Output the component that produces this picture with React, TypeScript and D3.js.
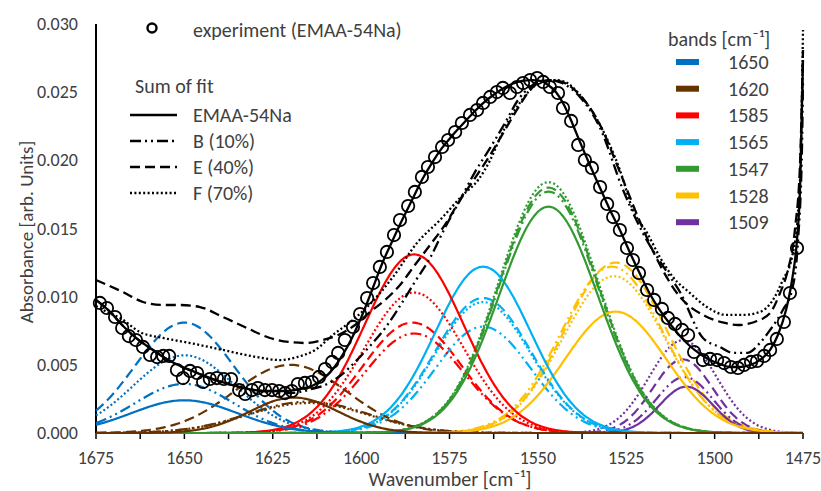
import * as React from "react";
import * as d3 from "d3";

// fitted bands (Gaussian): centre [cm-1], width sigma [cm-1], height [a.u.]
const bandLabels = ["1650", "1620", "1585", "1565", "1547", "1528", "1509"];
const bandColors = ["#0070C0", "#663300", "#FF0000", "#00B0F0", "#339933", "#FFC000", "#7030A0"];

const centersS = [1650, 1619, 1585, 1565.5, 1547, 1528, 1508];
const centersB = [1650, 1615, 1585, 1565.5, 1547, 1529, 1508.5];
const centersE = [1650, 1620, 1585.5, 1565.5, 1547, 1528, 1509];
const centersF = [1650, 1615, 1585, 1565.5, 1547, 1528.5, 1509];

const widthsS = [15, 12.5, 14, 13.5, 14, 14.4, 7.5];
const widthsB = [14, 17, 14, 13.5, 14, 14.4, 8];
const widthsE = [14, 16, 14, 13.5, 14, 14.4, 8.5];
const widthsF = [14.5, 17, 14, 13.5, 14, 14.4, 9.5];

const heightsS = [0.0024, 0.0026, 0.0131, 0.0122, 0.0166, 0.0089, 0.0034];
const heightsB = [0.0036, 0.0023, 0.0073, 0.0078, 0.0177, 0.0122, 0.0041];
const heightsE = [0.0081, 0.005, 0.0081, 0.0099, 0.018, 0.0125, 0.0054];
const heightsF = [0.0057, 0.0022, 0.0103, 0.0096, 0.0184, 0.0115, 0.0068];

// sum of fit curves [wavenumber, absorbance]
const sumS = [
  [1675, 0.00976], [1671, 0.00888], [1667.6, 0.00792], [1663.7, 0.00697], [1659.7, 0.00623],
  [1655.5, 0.0055], [1651.2, 0.00491], [1647, 0.00447], [1642.8, 0.00403], [1638.5, 0.00367],
  [1634.3, 0.00337], [1630, 0.00315], [1625.8, 0.00308], [1621.5, 0.00308], [1617.3, 0.00323],
  [1613.9, 0.00345], [1611.1, 0.00389], [1608.2, 0.00462], [1605.4, 0.00565], [1602.6, 0.00697],
  [1599.8, 0.00858], [1596.9, 0.01049], [1594.1, 0.0124], [1591.3, 0.01401], [1588.4, 0.01562],
  [1585.6, 0.01709], [1582.8, 0.01856], [1580, 0.0198], [1577.1, 0.02091], [1574.3, 0.02179],
  [1571.5, 0.02259], [1568.6, 0.0234], [1565.8, 0.02413], [1563, 0.02472], [1560.1, 0.02523],
  [1557.3, 0.0256], [1554.5, 0.02582], [1551.7, 0.02589], [1549.4, 0.02582], [1547.1, 0.02553],
  [1544.9, 0.02501], [1542.6, 0.02406], [1540.3, 0.02274], [1538.1, 0.02135], [1535.3, 0.01966],
  [1532.4, 0.01797], [1529.6, 0.01636], [1526.8, 0.01489], [1523.9, 0.0132], [1521.1, 0.01166],
  [1518.3, 0.0102], [1515.5, 0.00902], [1512.6, 0.008], [1509.8, 0.00712], [1507, 0.00638],
  [1504.1, 0.00579], [1501.3, 0.00535], [1498.5, 0.00506], [1495.7, 0.00484], [1492.8, 0.00484],
  [1490, 0.00499], [1487.2, 0.00535], [1484.3, 0.00609], [1482.1, 0.00719], [1479.8, 0.00902],
  [1478.1, 0.01122], [1476.7, 0.01416], [1475.8, 0.01819], [1475, 0.02736],
];

const sumB = [
  [1675, 0.00976], [1671, 0.00888], [1667.6, 0.00792], [1663.7, 0.00697], [1659.7, 0.00623],
  [1655.5, 0.0055], [1651.2, 0.00491], [1647, 0.00447], [1642.8, 0.00403], [1638.5, 0.00367],
  [1634.3, 0.00337], [1630, 0.00315], [1625.8, 0.00301], [1621.5, 0.00293], [1617.3, 0.00301],
  [1613.9, 0.00323], [1610.2, 0.00352], [1606, 0.00418], [1601.7, 0.00521], [1597.5, 0.00638],
  [1593.2, 0.0077], [1589, 0.00932], [1584.8, 0.01108], [1580.5, 0.01284], [1576.3, 0.01504],
  [1572, 0.01709], [1567.8, 0.01914], [1563.5, 0.02091], [1559.3, 0.02274], [1555.6, 0.02443],
  [1552.2, 0.02538], [1549.4, 0.02582], [1546.6, 0.02589], [1543.2, 0.02567], [1538.1, 0.02465],
  [1532.4, 0.02237], [1525.9, 0.01782], [1520.3, 0.01467], [1513.5, 0.01181], [1509.8, 0.01034],
  [1503.3, 0.00697], [1498.5, 0.00631], [1494.8, 0.00587], [1490.8, 0.00587], [1487.2, 0.0066],
  [1484.3, 0.00756], [1480.7, 0.00902], [1478.1, 0.01049], [1476.4, 0.01416], [1475.3, 0.02076],
  [1475, 0.02589],
];

const sumE = [
  [1675, 0.01122], [1667.4, 0.01034], [1661.7, 0.00961], [1656.3, 0.00939], [1651.2, 0.00939],
  [1645.6, 0.00924], [1639.1, 0.00851], [1632.3, 0.0077], [1625.8, 0.00697], [1620.1, 0.00667],
  [1615.3, 0.0066], [1610.8, 0.00682], [1606.5, 0.00719], [1601.7, 0.00792], [1597.5, 0.00888],
  [1593.2, 0.00976], [1589, 0.01086], [1584.8, 0.01232], [1580.5, 0.01379], [1576.3, 0.01526],
  [1572, 0.01709], [1567.8, 0.0187], [1563.5, 0.02039], [1559.3, 0.02223], [1555.6, 0.02384],
  [1552.2, 0.02516], [1549.4, 0.02575], [1546.6, 0.02589], [1543.2, 0.02575], [1538.1, 0.02479],
  [1532.4, 0.02259], [1526.8, 0.01914], [1521.1, 0.01548], [1516.9, 0.01306], [1509.8, 0.00998],
  [1502.7, 0.00858], [1497.1, 0.00807], [1493.4, 0.00792], [1488, 0.00822], [1484.3, 0.0088],
  [1481.5, 0.01027], [1479.5, 0.01174], [1477.3, 0.01489], [1475.8, 0.02002], [1475, 0.02809],
];

const sumF = [
  [1675, 0.00932], [1671.9, 0.00888], [1668.2, 0.00844], [1662.6, 0.00741], [1656, 0.00697],
  [1648.4, 0.0066], [1639.1, 0.00609], [1629.5, 0.00557], [1622.9, 0.00535], [1618.1, 0.00557],
  [1613, 0.00609], [1608, 0.00719], [1603.1, 0.00814], [1598.3, 0.00924], [1591, 0.01144],
  [1584.2, 0.01394], [1577.7, 0.01562], [1571.2, 0.01746], [1566.9, 0.01856], [1563.5, 0.02002],
  [1560.7, 0.02164], [1557.9, 0.02311], [1555.1, 0.02421], [1552.2, 0.02516], [1548.8, 0.02575],
  [1545.2, 0.02589], [1542.3, 0.02575], [1538.1, 0.02479], [1532.4, 0.02259], [1526.8, 0.01929],
  [1523.1, 0.01636], [1519.1, 0.01467], [1515.5, 0.01291], [1511.8, 0.01144], [1507, 0.01027],
  [1502.2, 0.00924], [1496.6, 0.00866], [1492, 0.00866], [1487.2, 0.00888], [1483.5, 0.00976],
  [1480.7, 0.01122], [1478.1, 0.01291], [1476.4, 0.01614], [1475.6, 0.02076], [1475, 0.02956],
];

// experiment (EMAA-54Na)
const experiment = [
  [1673.9, 0.00954], [1671.9, 0.00917], [1669.6, 0.00851], [1667.6, 0.0077], [1665.7, 0.00711],
  [1663.7, 0.00682], [1661.7, 0.00631], [1659.7, 0.00572], [1657.7, 0.00557], [1656, 0.00565],
  [1654.3, 0.00565], [1652.1, 0.00462], [1650.4, 0.00403], [1648.4, 0.00455], [1646.4, 0.0044],
  [1644.7, 0.00374], [1642.8, 0.00396], [1640.8, 0.00403], [1638.8, 0.00396], [1636.8, 0.00396],
  [1634.5, 0.00315], [1632.8, 0.00286], [1630.9, 0.00315], [1629.2, 0.0033], [1627.2, 0.00315],
  [1625.2, 0.00315], [1623.2, 0.00308], [1621.5, 0.00293], [1619.6, 0.00308], [1617.9, 0.00359],
  [1615.9, 0.00367], [1613.9, 0.00374], [1611.9, 0.00411], [1610.2, 0.00469], [1608.2, 0.00521],
  [1606.5, 0.00587], [1604.6, 0.00682], [1602.3, 0.00778], [1600.3, 0.00873], [1598.3, 0.0099],
  [1596.6, 0.011], [1594.7, 0.01218], [1592.7, 0.01328], [1590.7, 0.01452], [1589, 0.01562],
  [1586.7, 0.01665], [1584.8, 0.01768], [1582.8, 0.01878], [1581.1, 0.01951], [1579.1, 0.02024],
  [1577.1, 0.02098], [1575.4, 0.02149], [1573.4, 0.02208], [1571.5, 0.02274], [1569.2, 0.02333],
  [1567.2, 0.02369], [1565.5, 0.02421], [1563.5, 0.02465], [1561.6, 0.02501], [1559.9, 0.02531],
  [1557.9, 0.02494], [1555.9, 0.02538], [1554.2, 0.02567], [1552.2, 0.02589], [1550.2, 0.02604],
  [1548.5, 0.02575], [1546.6, 0.02538], [1544.3, 0.02494], [1542.9, 0.02384], [1540.6, 0.02289],
  [1538.6, 0.02113], [1536.7, 0.02002], [1534.7, 0.01944], [1532.4, 0.01804], [1530.4, 0.0168],
  [1528.7, 0.01584], [1526.8, 0.01489], [1524.8, 0.01357], [1523.1, 0.01269], [1521.4, 0.01174],
  [1519.1, 0.01049], [1517.1, 0.00976], [1514.9, 0.0091], [1513.2, 0.00844], [1511.2, 0.008],
  [1509.2, 0.00756], [1507.5, 0.00719], [1505.8, 0.00594], [1503.3, 0.00535], [1501.3, 0.00543],
  [1499.3, 0.00535], [1497.3, 0.00513], [1495.4, 0.00484], [1493.4, 0.00477], [1491.7, 0.00499],
  [1489.7, 0.00521], [1488, 0.00528], [1486, 0.00565], [1484.3, 0.00609], [1482.4, 0.0069],
  [1480.4, 0.00814], [1478.7, 0.01027], [1476.7, 0.01357],
];

const xTicks = [1675, 1650, 1625, 1600, 1575, 1550, 1525, 1500, 1475];
const yTicks = [0, 0.005, 0.01, 0.015, 0.02, 0.025, 0.03];

const samples = [
  { name: "EMAA-54Na", centers: centersS, widths: widthsS, heights: heightsS, sum: sumS, dash: null },
  { name: "B (10%)", centers: centersB, widths: widthsB, heights: heightsB, sum: sumB, dash: "11,4,2,4,2,4" },
  { name: "E (40%)", centers: centersE, widths: widthsE, heights: heightsE, sum: sumE, dash: "10,5" },
  { name: "F (70%)", centers: centersF, widths: widthsF, heights: heightsF, sum: sumF, dash: "2,2.4" },
];

const FONT = "Carlito, Calibri, Lato, sans-serif";
const TXT = "#404040";

export default function App() {
  const width = 821;
  const height = 491;

  const x = d3.scaleLinear().domain([1675, 1475]).range([96, 803]);
  const y = d3.scaleLinear().domain([0, 0.03]).range([433, 24]);

  const grid = d3.range(1675, 1474.99, -0.5);

  const line = d3
    .line()
    .x((d) => x(d[0]))
    .y((d) => y(d[1]))
    .curve(d3.curveMonotoneX);

  const bandPath = (c, s, h) =>
    line(grid.map((w) => [w, h * Math.exp(-((w - c) * (w - c)) / (2 * s * s))]));

  const minorTicks = d3.range(1675, 1474, -12.5);

  // draw order: F, E, B then EMAA on top
  const order = [3, 2, 1, 0];
  // bands: green and brown last so their baselines show along the axis
  const bandOrder = [6, 5, 3, 2, 0, 4, 1];

  return (
    <div>
      <svg width={width} height={height} style={{ display: "block", position: "absolute", left: 0, top: 0, background: "#fff" }}>
        {/* axes */}
        <line x1={96} x2={96} y1={24} y2={433} stroke="#000" strokeWidth={2} />
        <line x1={96} x2={803} y1={433} y2={433} stroke="#000" strokeWidth={2} />
        {minorTicks.map((t) => (
          <line key={"t" + t} x1={x(t)} x2={x(t)} y1={433} y2={439} stroke="#000" strokeWidth={1.5} />
        ))}
        {xTicks.map((t) => (
          <text key={"xl" + t} x={x(t)} y={464} textAnchor="middle" fontFamily={FONT} fontSize={18} fill={TXT}>
            {t}
          </text>
        ))}
        {yTicks.map((t) => (
          <text key={"yl" + t} x={78} y={y(t) + 6} textAnchor="end" fontFamily={FONT} fontSize={18} fill={TXT}>
            {t.toFixed(3)}
          </text>
        ))}
        <text x={450} y={486} textAnchor="middle" fontFamily={FONT} fontSize={20} fill={TXT}>
          Wavenumber [cm⁻¹]
        </text>
        <text
          transform={`translate(33,232) rotate(-90)`}
          textAnchor="middle"
          fontFamily={FONT}
          fontSize={19}
          fill={TXT}
        >
          Absorbance [arb. Units]
        </text>

        {/* bands */}
        {order.map((si) =>
          bandOrder.map((bi) => (
            <path
              key={"band" + si + "-" + bi}
              d={bandPath(samples[si].centers[bi], samples[si].widths[bi], samples[si].heights[bi])}
              fill="none"
              stroke={bandColors[bi]}
              strokeWidth={2.2}
              strokeDasharray={samples[si].dash || undefined}
            />
          ))
        )}

        {/* sums of fit */}
        {order.map((si) => (
          <path
            key={"sum" + si}
            d={line(samples[si].sum)}
            fill="none"
            stroke="#000"
            strokeWidth={2.3}
            strokeDasharray={samples[si].dash || undefined}
          />
        ))}

        {/* experiment */}
        {experiment.map((d, i) => (
          <circle key={"e" + i} cx={x(d[0])} cy={y(d[1])} r={6.2} fill="none" stroke="#000" strokeWidth={1.8} />
        ))}

        {/* legend, left */}
        <circle cx={152} cy={28} r={4.5} fill="none" stroke="#000" strokeWidth={2.4} />
        <text x={193} y={37} fontFamily={FONT} fontSize={20} fill={TXT}>
          experiment (EMAA-54Na)
        </text>
        <text x={135} y={93} fontFamily={FONT} fontSize={20} fill={TXT}>
          Sum of fit
        </text>
        {samples.map((s, i) => (
          <g key={"lg" + i}>
            <line
              x1={130}
              x2={177}
              y1={115 + i * 26}
              y2={115 + i * 26}
              stroke="#000"
              strokeWidth={2.6}
              strokeDasharray={s.dash || undefined}
            />
            <text x={193} y={122 + i * 26} fontFamily={FONT} fontSize={20} fill={TXT}>
              {s.name}
            </text>
          </g>
        ))}

        {/* legend, right */}
        <text x={668} y={46} fontFamily={FONT} fontSize={20} fill={TXT}>
          bands [cm⁻¹]
        </text>
        {bandLabels.map((b, i) => (
          <g key={"bl" + b}>
            <rect x={676} y={59 + i * 26.7} width={23} height={6} fill={bandColors[i]} />
            <text x={728} y={69 + i * 26.7} fontFamily={FONT} fontSize={20} fill={TXT}>
              {b}
            </text>
          </g>
        ))}
      </svg>
    </div>
  );
}
